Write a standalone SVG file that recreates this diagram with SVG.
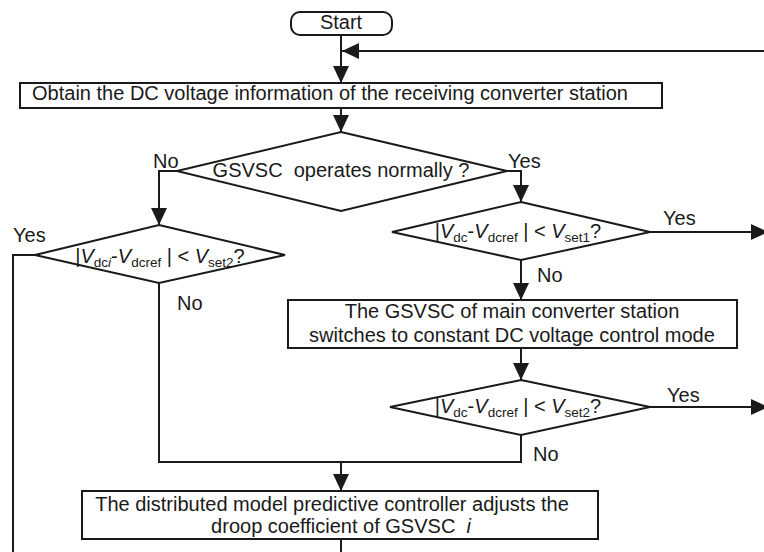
<svg xmlns="http://www.w3.org/2000/svg" width="764" height="552" viewBox="0 0 764 552">
<style>
text{font-family:"Liberation Sans",Arial,sans-serif;font-size:20px;fill:#1a1a1a}
.m{text-anchor:middle}
.sub{font-size:13.5px}
.it{font-style:italic}
.box{fill:#fff;stroke:#1a1a1a;stroke-width:2}
.ln{fill:none;stroke:#1a1a1a;stroke-width:2}
.ar{fill:none;stroke:#1a1a1a;stroke-width:2;marker-end:url(#ah)}
</style>
<defs>
<marker id="ah" markerUnits="userSpaceOnUse" markerWidth="17" markerHeight="16" refX="17" refY="8" orient="auto">
<path d="M0,0 L17,8 L0,16 z" fill="#1a1a1a"/>
</marker>
</defs>
<g id="connectors">
<path class="ar" d="M341,35 V83"/>
<path class="ar" d="M764,51 H342"/>
<path class="ar" d="M341,108 V132"/>
<path class="ar" d="M177,171 H159 V225"/>
<path class="ar" d="M507,171 H521 V202"/>
<path class="ar" d="M650,232 H768"/>
<path class="ar" d="M521,260 V300"/>
<path class="ar" d="M521,348 V380"/>
<path class="ar" d="M650,407 H768"/>
<path class="ln" d="M159,283 V462 H521 V435"/>
<path class="ar" d="M341,462 V491"/>
<path class="ln" d="M341,539 V552"/>
<path class="ln" d="M35,255 H13 V552"/>
<text x="153" y="168">No</text>
<text x="508" y="168">Yes</text>
<text x="13" y="242">Yes</text>
<text x="177" y="310">No</text>
<text x="663" y="225">Yes</text>
<text x="537" y="282">No</text>
<text x="667" y="402">Yes</text>
<text x="533" y="461">No</text>
</g>
<g id="start">
<rect class="box" x="291" y="12" width="101" height="23" rx="9"/>
<text class="m" x="341" y="29">Start</text>
</g>
<g id="obtain">
<rect class="box" x="20" y="83" width="642" height="25"/>
<text class="m" x="330" y="100">Obtain the DC voltage information of the receiving converter station</text>
</g>
<g id="normal">
<polygon class="box" points="341,132 507,171 341,211 177,171"/>
<text class="m" x="341" y="177">GSVSC&#160; operates normally ?</text>
</g>
<g id="left-check">
<polygon class="box" points="159,225 285,255 159,283 35,255"/>
<text class="m" x="160" y="263">|<tspan class="it">V</tspan><tspan class="sub" dy="4">dc</tspan><tspan class="sub it">i</tspan><tspan dy="-4">-</tspan><tspan class="it">V</tspan><tspan class="sub" dy="4">dcref</tspan><tspan dy="-4"> | &lt; </tspan><tspan class="it">V</tspan><tspan class="sub" dy="4">set2</tspan><tspan dy="-4">?</tspan></text>
</g>
<g id="check1">
<polygon class="box" points="521,202 650,232 521,260 392,232"/>
<text class="m" x="518" y="238">|<tspan class="it">V</tspan><tspan class="sub" dy="4">dc</tspan><tspan dy="-4">-</tspan><tspan class="it">V</tspan><tspan class="sub" dy="4">dcref</tspan><tspan dy="-4"> | &lt; </tspan><tspan class="it">V</tspan><tspan class="sub" dy="4">set1</tspan><tspan dy="-4">?</tspan></text>
</g>
<g id="switch">
<rect class="box" x="288" y="300" width="449" height="48"/>
<text class="m" x="512" y="318">The GSVSC of main converter station</text>
<text class="m" x="512" y="342">switches to constant DC voltage control mode</text>
</g>
<g id="check2">
<polygon class="box" points="521,380 650,407 521,435 390,407"/>
<text class="m" x="518" y="413">|<tspan class="it">V</tspan><tspan class="sub" dy="4">dc</tspan><tspan dy="-4">-</tspan><tspan class="it">V</tspan><tspan class="sub" dy="4">dcref</tspan><tspan dy="-4"> | &lt; </tspan><tspan class="it">V</tspan><tspan class="sub" dy="4">set2</tspan><tspan dy="-4">?</tspan></text>
</g>
<g id="dmpc">
<rect class="box" x="82" y="491" width="516" height="48"/>
<text class="m" x="332" y="511">The distributed model predictive controller adjusts the</text>
<text class="m" x="341" y="533">droop coefficient of GSVSC&#160; <tspan class="it">i</tspan></text>
</g>
</svg>
